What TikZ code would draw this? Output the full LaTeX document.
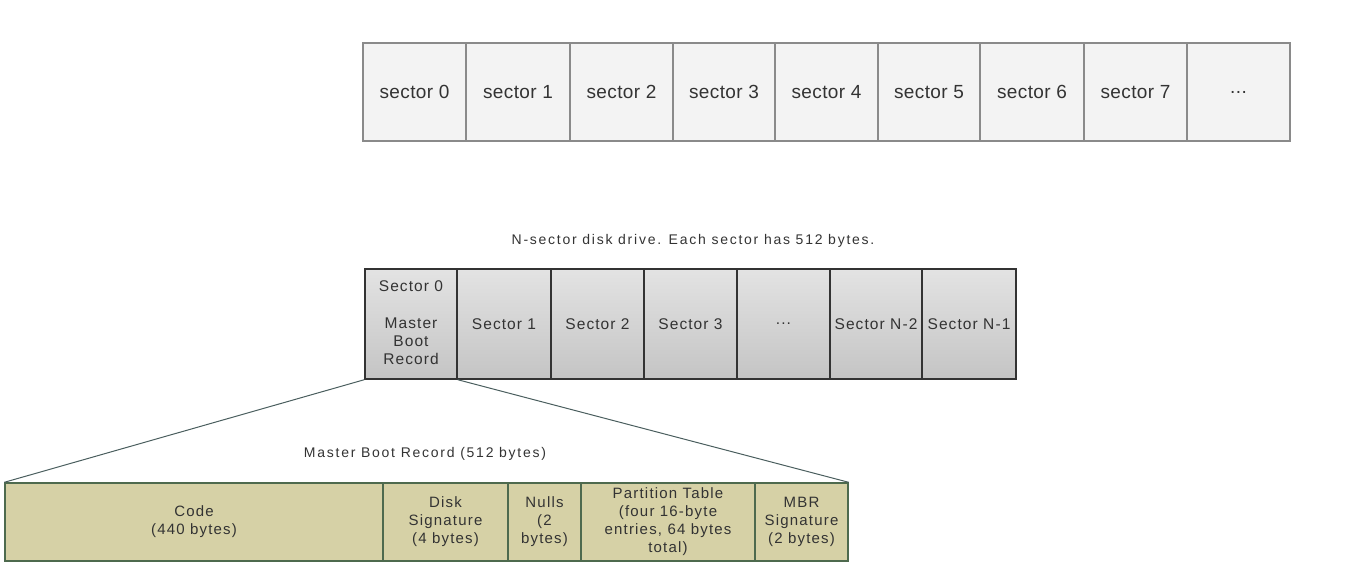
\documentclass[tikz,border=0pt]{standalone}
\usepackage{fontspec}
\setmainfont{Liberation Sans}
\definecolor{topfill}{HTML}{F3F3F3}
\definecolor{topline}{HTML}{8A8A8A}
\definecolor{midline}{HTML}{333333}
\definecolor{botfill}{HTML}{D6D1A6}
\definecolor{botline}{HTML}{4E6A4E}
\definecolor{fanline}{HTML}{4A5E5E}
\definecolor{txt}{HTML}{333333}
\newcommand\myellip{...}
\begin{document}
\begin{tikzpicture}[x=1pt,y=-1pt,
  topcell/.style={draw=topline,line width=1.3pt,fill=topfill,inner sep=0pt,
    minimum height=98pt,font=\fontsize{19}{22}\selectfont\addfontfeature{LetterSpace=2},text=txt},
  midfont/.style={font=\fontsize{15.5}{18}\selectfont\addfontfeature{LetterSpace=7},text=txt},
  midcell/.style={draw=midline,line width=1.4pt,top color=black!11,bottom color=black!23,inner sep=0pt,
    minimum height=110pt,midfont,align=center},
  botcell/.style={draw=botline,line width=1.4pt,fill=botfill,inner sep=0pt,
    minimum height=78pt,font=\fontsize{15}{18}\selectfont\addfontfeature{LetterSpace=8},text=txt,align=center},
  captext/.style={font=\fontsize{14}{16}\selectfont\addfontfeature{LetterSpace=12.5},text=txt,inner sep=0pt},
  fan/.style={draw=fanline,line width=1pt}]
\useasboundingbox (0,0) rectangle (1351,576);
% top row
\foreach \i/\a/\b/\t in {0/363/466/sector 0,1/466/570/sector 1,2/570/673/sector 2,3/673/775/sector 3,4/775/878/sector 4,5/878/980/sector 5,6/980/1084/sector 6,7/1084/1187/sector 7,8/1187/1290/\myellip}
  \node[topcell,minimum width={\b-\a}] (t\i) at ({(\a+\b)/2},92) {\t};
% caption
\node[captext] (cap1) at (693,241) {N-sector disk drive. Each sector has 512 bytes.};
% middle row
\node[midcell,minimum width=92pt] (m0) at (411,324) {};
\node[midfont,inner sep=0pt] (m0a) at (411,286) {Sector 0};
\node[midfont,align=center,inner sep=0pt] (m0b) at (411,341) {Master\\Boot\\Record};
\foreach \i/\a/\b/\t in {1/457/551/Sector 1,2/551/644/Sector 2,3/644/737/Sector 3,4/737/830/\myellip,5/830/922/Sector N-2,6/922/1016/Sector N-1}
  \node[midcell,minimum width={\b-\a}] (m\i) at ({(\a+\b)/2},324) {\t};
% caption 2
\node[captext] (cap2) at (425,454) {Master Boot Record (512 bytes)};
% bottom row
\node[botcell,minimum width=378pt] (c0) at (194,522) {Code\\(440 bytes)};
\node[botcell,minimum width=125pt] (c1) at (445.5,522) {Disk\\Signature\\(4 bytes)};
\node[botcell,minimum width=73pt] (c2) at (544.5,522) {Nulls\\(2\\bytes)};
\node[botcell,minimum width=174pt] (c3) at (668,522) {Partition Table\\(four 16-byte\\entries, 64 bytes\\total)};
\node[botcell,minimum width=93pt] (c4) at (801.5,522) {MBR\\Signature\\(2 bytes)};
% fan lines
\draw[fan] (m0.south west) -- (c0.north west);
\draw[fan] (m0.south east) -- (c4.north east);
\end{tikzpicture}
\end{document}
